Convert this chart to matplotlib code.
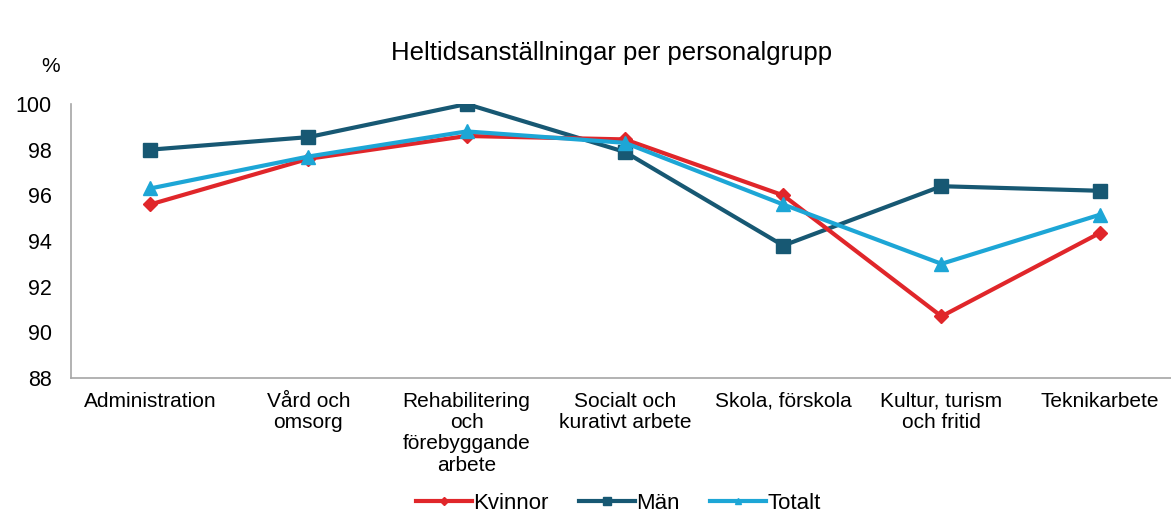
import matplotlib.pyplot as plt
from matplotlib.lines import Line2D

categories = ["Administration", "Vård och\nomsorg", "Rehabilitering\noch\nförebyggande\narbete",
              "Socialt och\nkurativt arbete", "Skola, förskola", "Kultur, turism\noch fritid",
              "Teknikarbete"]
kvinnor = [95.6, 97.6, 98.6, 98.45, 96.0, 90.7, 94.35]
man = [98.0, 98.55, 100.0, 97.9, 93.8, 96.4, 96.2]
totalt = [96.3, 97.7, 98.8, 98.3, 95.6, 93.0, 95.15]

RED = "#E0262A"
DARK = "#175873"
CYAN = "#1DA6D6"

plt.rcParams["font.family"] = ["Liberation Sans", "DejaVu Sans"]

fig = plt.figure(figsize=(11.71, 5.17), dpi=100)
ax = fig.add_axes([0.0606, 0.2689, 0.9394, 0.5299])

x = range(len(categories))
ax.plot(x, kvinnor, color=RED, lw=3, marker="D", ms=7, label="Kvinnor", zorder=3)
ax.plot(x, man, color=DARK, lw=3, marker="s", ms=10, label="Män", zorder=2)
ax.plot(x, totalt, color=CYAN, lw=3, marker="^", ms=10, label="Totalt", zorder=4)

ax.set_xlim(-0.5, 6.45)
ax.set_ylim(88, 100)
ax.set_yticks(range(88, 101, 2))
ax.set_xticks(list(x))
ax.set_xticklabels(categories, fontsize=15, va="top", linespacing=1.15)
ax.tick_params(axis="y", labelsize=15.5, length=0, pad=14)
ax.tick_params(axis="x", length=0, pad=10)
for s in ["top", "right"]:
    ax.spines[s].set_visible(False)
for s in ["left", "bottom"]:
    ax.spines[s].set_color("#A6A6A6")
    ax.spines[s].set_linewidth(1.2)

fig.text(0.522, 0.897, "Heltidsanställningar per personalgrupp", ha="center", va="center", fontsize=18.5)
fig.text(0.043, 0.872, "%", ha="center", va="center", fontsize=15)

handles = [
    Line2D([], [], color=RED, lw=3, marker="D", ms=4),
    Line2D([], [], color=DARK, lw=3, marker="s", ms=6),
    Line2D([], [], color=CYAN, lw=3, marker="^", ms=5),
]
fig.legend(handles, ["Kvinnor", "Män", "Totalt"], loc="center", bbox_to_anchor=(0.528, 0.027),
           ncol=3, frameon=False, fontsize=16, handlelength=2.5, handletextpad=0.05,
           columnspacing=1.4, borderpad=0)

fig.savefig("out.png", dpi=100)
